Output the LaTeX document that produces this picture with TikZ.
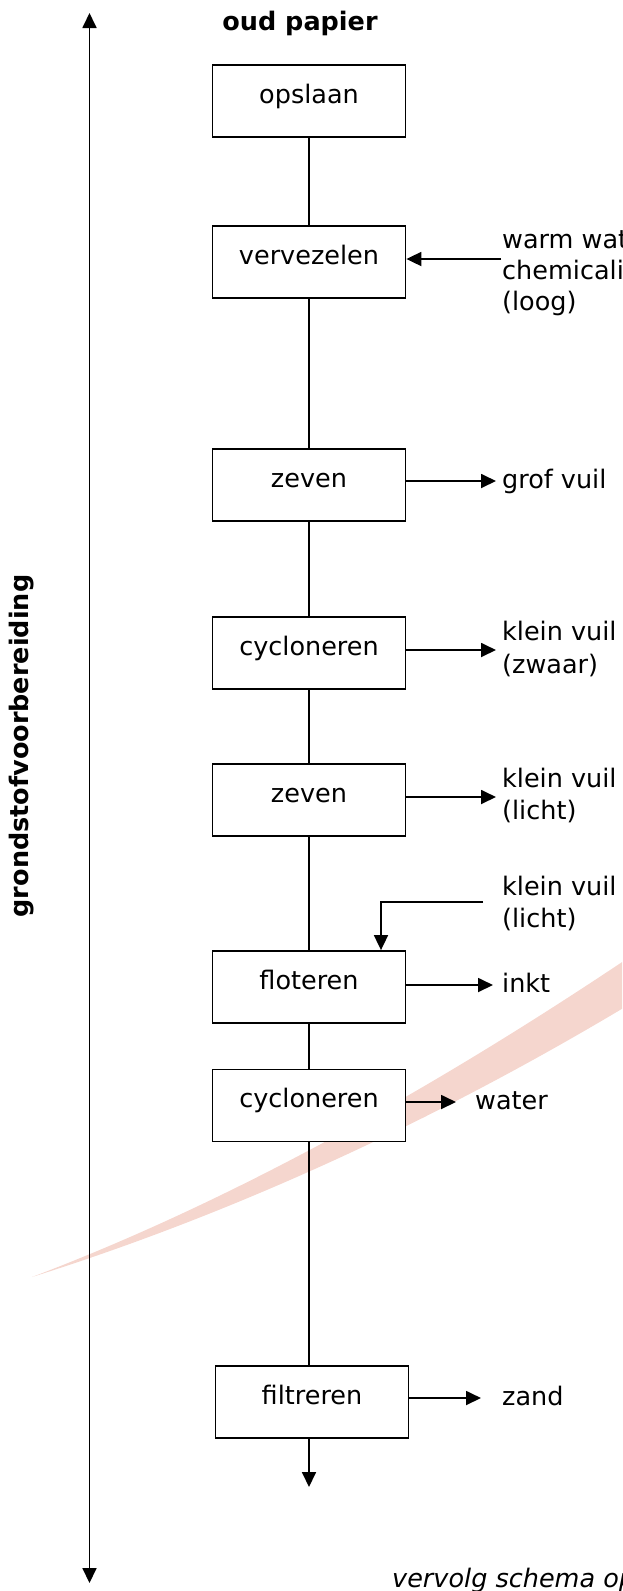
\documentclass[tikz,border=0pt]{standalone}
\usepackage{fontspec}
\setmainfont{DejaVu Sans}
\usetikzlibrary{arrows.meta}
\definecolor{swooshcol}{RGB}{245,214,206}
\newcommand\diagfont{\fontsize{25.5}{33}\selectfont}
\begin{document}
\begin{tikzpicture}[x=1pt,y=-1pt,
  every node/.style={font=\diagfont},
  proc/.style={draw, line width=1.8pt, fill=white, minimum width=193pt, minimum height=72pt, inner sep=0pt, text height=15pt, text depth=11pt},
  lbl/.style={anchor=base west, inner sep=0pt},
  conn/.style={line width=1.8pt},
  arr/.style={line width=1.8pt, -{Triangle[length=15pt,width=14pt]}},
  dblarr/.style={line width=1.8pt, {Triangle[length=15pt,width=14pt]}-{Triangle[length=15pt,width=14pt]}},
]
\useasboundingbox (0,0) rectangle (622,1591);
\clip (0,0) rectangle (622,1591);

% background swoosh
\fill[swooshcol] (32,1277) .. controls (235,1200) and (440,1085) .. (640,950)
  -- (640,998) .. controls (440,1119) and (235,1213) .. (32,1277) -- cycle;

% vertical double arrow and label
\coordinate (ltop) at (89.5,13);
\coordinate (lbot) at (89.5,1583);
\draw[dblarr] (ltop) -- (lbot);
\node[rotate=90, font=\diagfont\bfseries, inner sep=0pt] (side) at (22,746) {grondstofvoorbereiding};

% title
\node[font=\diagfont\bfseries, anchor=base, inner sep=0pt] (title) at (300,30) {oud papier};

% process boxes
\node[proc] (n1) at (309,101) {opslaan};
\node[proc] (n2) at (309,262) {vervezelen};
\node[proc] (n3) at (309,485) {zeven};
\node[proc] (n4) at (309,653) {cycloneren};
\node[proc] (n5) at (309,800) {zeven};
\node[proc] (n6) at (309,987) {floteren};
\node[proc] (n7) at (309,1105.5) {cycloneren};
\node[proc] (n8) at (312,1402) {filtreren};

% main flow
\draw[conn] (n1) -- (n2);
\draw[conn] (n2) -- (n3);
\draw[conn] (n3) -- (n4);
\draw[conn] (n4) -- (n5);
\draw[conn] (n5) -- (n6);
\draw[conn] (n6) -- (n7);
\draw[conn] (n7.south) -- (n7.south |- n8.north);
\coordinate (fend) at (309,1487);
\draw[arr] (n8.south -| fend) -- (fend);

% inputs
\coordinate (win) at (501,259);
\draw[arr] (win) -- (n2.east |- win);
\node[lbl] (wlab) at (502,248) {\vtop{\baselineskip=31pt\hbox{warm water}\hbox{chemicaliën}\hbox{(loog)}}};

\coordinate (kvin) at (483,902);
\draw[arr] (kvin) -| ([xshift=72pt]n6.north);
\node[lbl] (kv3) at (502,895) {\vtop{\baselineskip=32pt\hbox{klein vuil}\hbox{(licht)}}};

% outputs
\coordinate (o3) at (496,481);
\draw[arr] (n3.east |- o3) -- (o3);
\node[lbl] (grof) at (502,488) {grof vuil};

\coordinate (o4) at (496,650);
\draw[arr] (n4.east |- o4) -- (o4);
\node[lbl] (kv1) at (502,640) {\vtop{\baselineskip=33pt\hbox{klein vuil}\hbox{(zwaar)}}};

\coordinate (o5) at (496,797);
\draw[arr] (n5.east |- o5) -- (o5);
\node[lbl] (kv2) at (502,787) {\vtop{\baselineskip=32pt\hbox{klein vuil}\hbox{(licht)}}};

\coordinate (o6) at (493,985);
\draw[arr] (n6.east |- o6) -- (o6);
\node[lbl] (inkt) at (502,992) {inkt};

\coordinate (o7) at (456,1102);
\draw[arr] (n7.east |- o7) -- (o7);
\node[lbl] (water) at (475,1109) {water};

\coordinate (o8) at (481,1398);
\draw[arr] (n8.east |- o8) -- (o8);
\node[lbl] (zand) at (502,1405) {zand};

% footer
\node[lbl, font=\diagfont\itshape] (foot) at (392,1587) {vervolg schema op};
\end{tikzpicture}
\end{document}
